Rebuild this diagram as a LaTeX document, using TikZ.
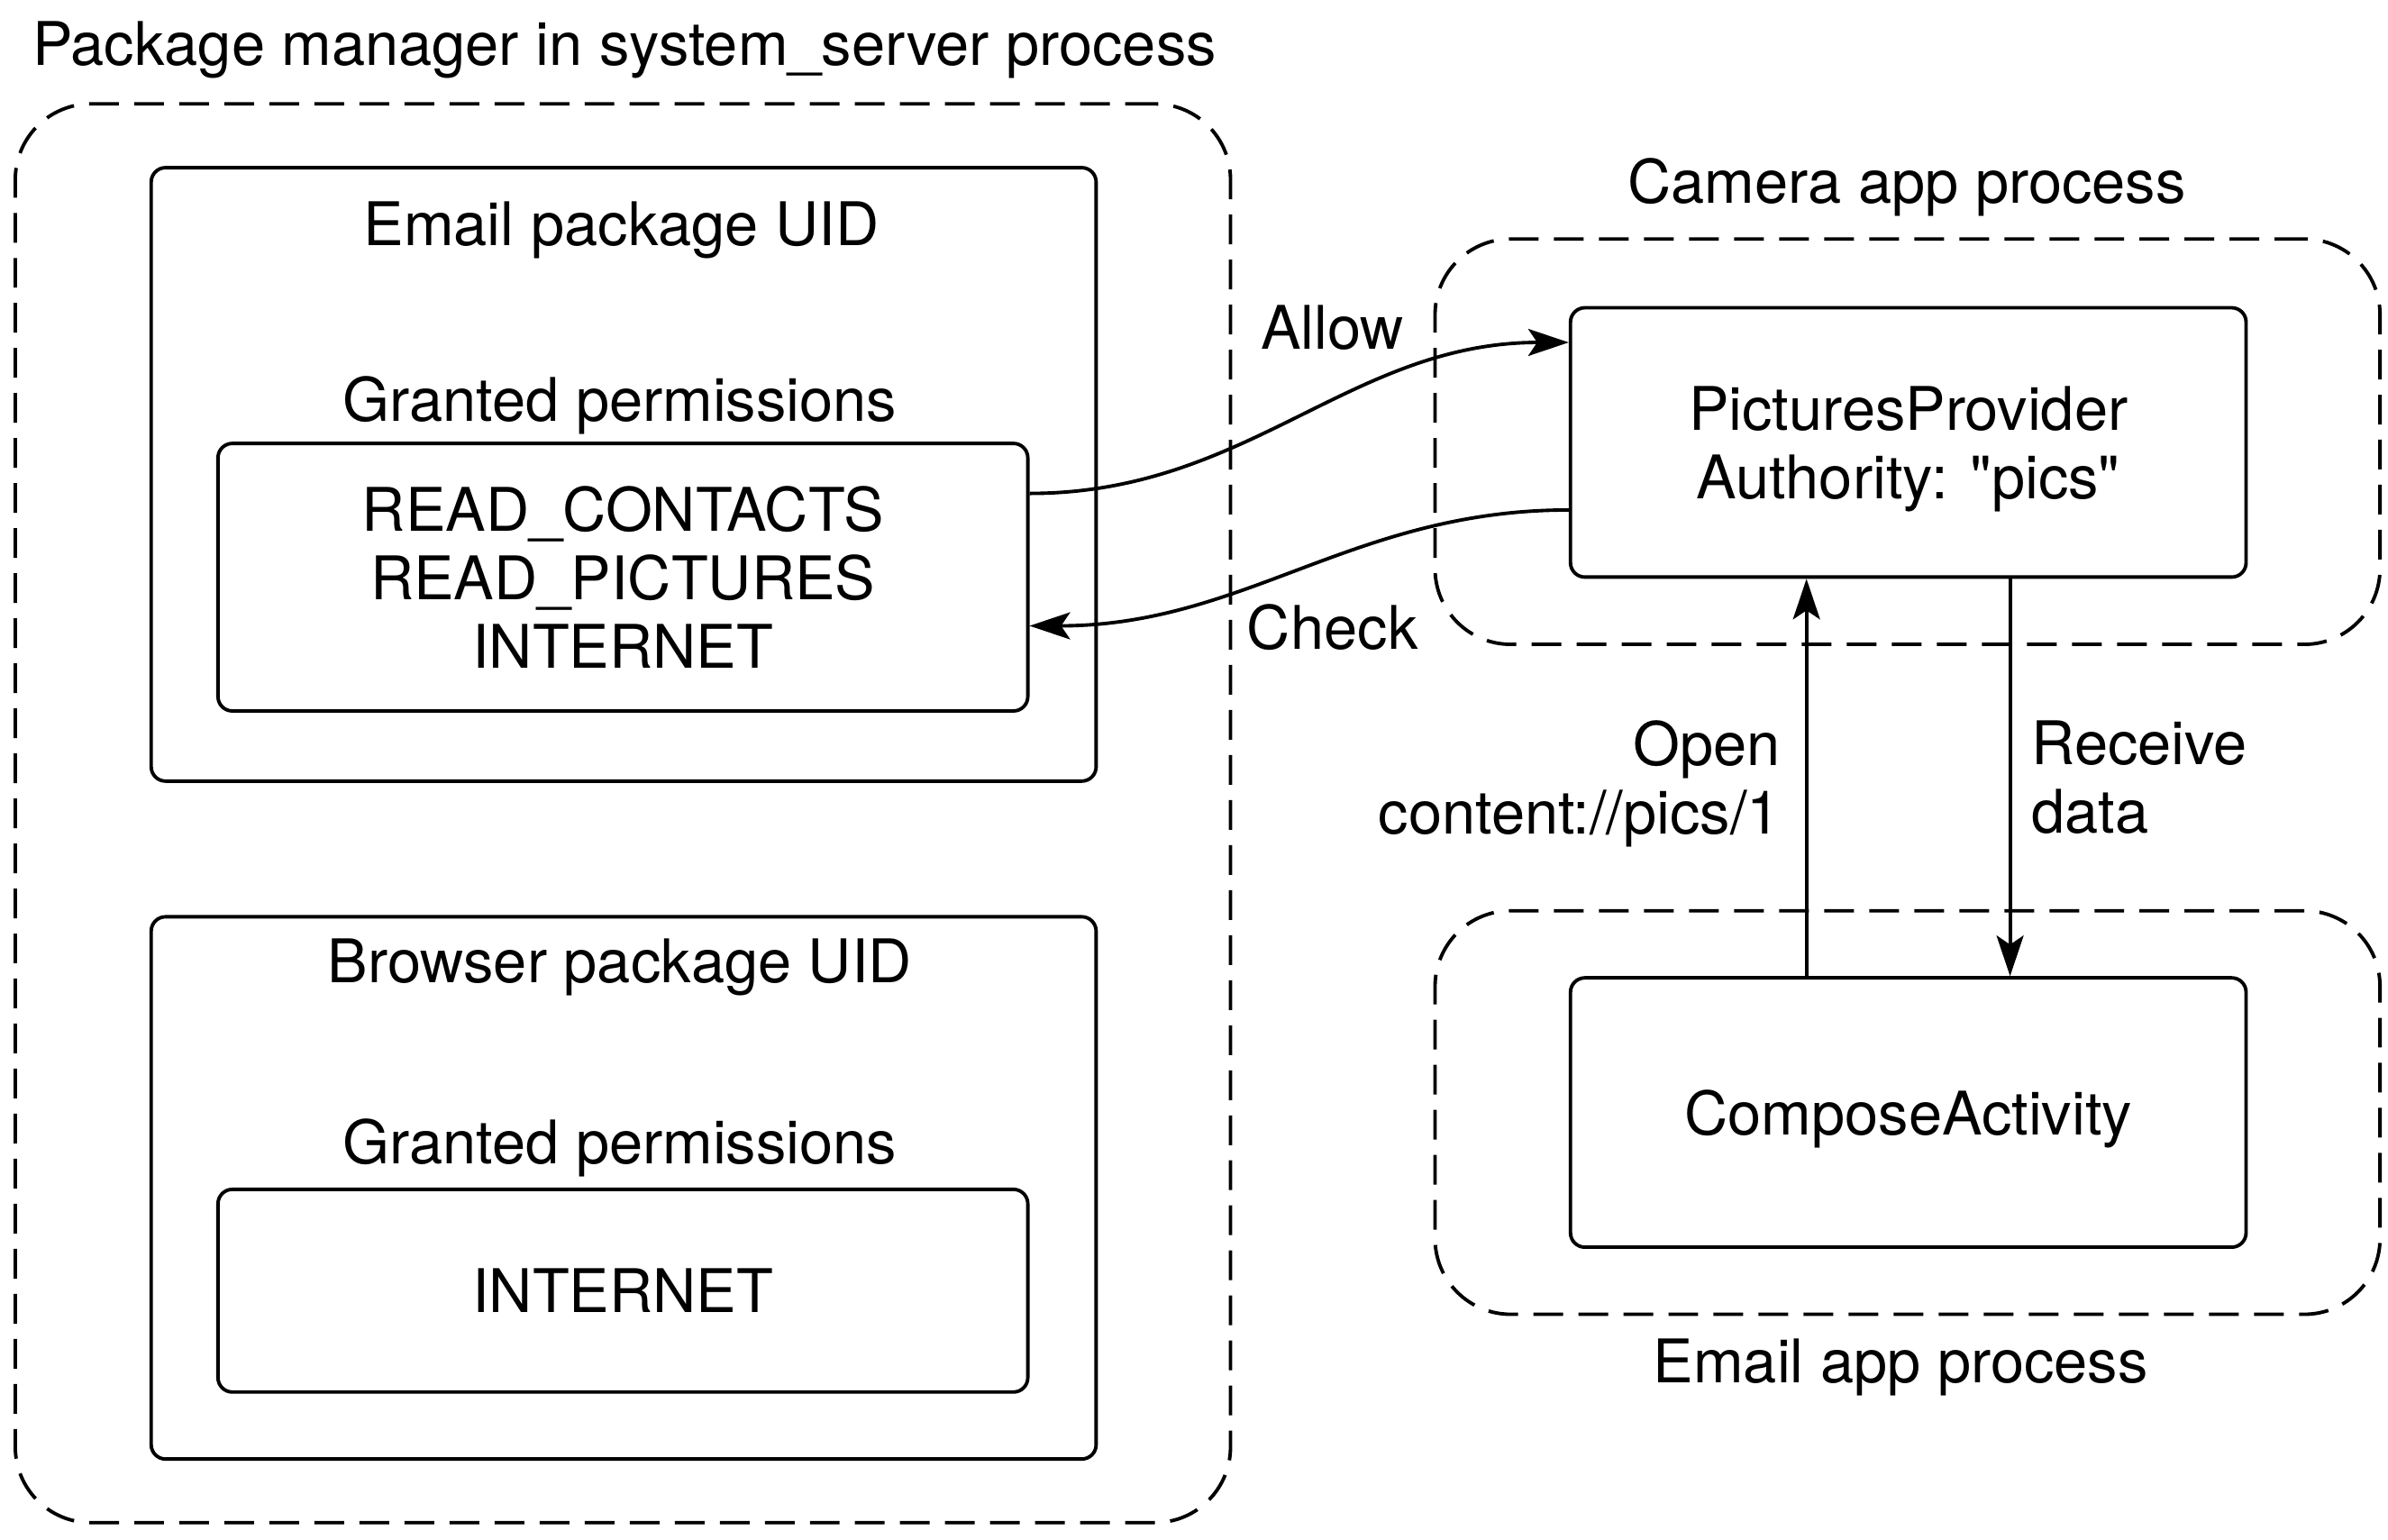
\documentclass[tikz,border=0pt]{standalone}
\usepackage{fontspec}
\setmainfont{TeX Gyre Heros}
\usetikzlibrary{arrows.meta}

\tikzset{
    proc/.style={draw, dash pattern=on 0.33cm off 0.17cm, rounded corners=0.84cm, line width=1.1pt},
    pkg/.style={draw, rounded corners=0.16cm, line width=1.1pt, align=center, text depth=0pt},
}

\begin{document}
\begin{tikzpicture}[x=0.0169cm, y=-0.0169cm, >={Stealth[length=0.45cm, width=0.3cm, inset=0.1cm]},
    every node/.style={font=\fontsize{19}{21.6}\selectfont, inner sep=0pt}]
    \useasboundingbox (0,0) rectangle (1568,1011);

    % package manager side
    \node(pmtitle) at (410,33) {Package manager in system\_server process};
    \node[proc, minimum width=13.49cm, minimum height=15.75cm](pm) at (409,534) {};

    \node[pkg, minimum width=10.49cm, minimum height=6.81cm](emailuid) at (409.5,311.5) {};
    \node(emailuidtitle) at (408,151) {Email package UID};
    \node(emailgranted) at (407,266) {Granted permissions};
    \node[pkg, minimum width=8.99cm, minimum height=2.97cm](emailperms) at (409,379)
        {READ\_CONTACTS\\READ\_PICTURES\\INTERNET};

    \node[pkg, minimum width=10.49cm, minimum height=6.02cm](browseruid) at (409.5,780) {};
    \node(browseruidtitle) at (407,635) {Browser package UID};
    \node(browsergranted) at (407,754) {Granted permissions};
    \node[pkg, minimum width=8.99cm, minimum height=2.25cm](browserperms) at (409,847.5) {INTERNET};

    % app processes
    \node(cameratitle) at (1252,123) {Camera app process};
    \node[proc, minimum width=10.49cm, minimum height=4.5cm](camera) at (1252.5,290) {};
    \node[pkg, minimum width=7.5cm, minimum height=2.99cm](provider) at (1253,290.5)
        {PicturesProvider\\Authority: \textquotedbl pics\textquotedbl};

    \node[proc, minimum width=10.49cm, minimum height=4.48cm](emailapp) at (1252.5,730.5) {};
    \node[pkg, minimum width=7.5cm, minimum height=2.99cm](compose) at (1253,730.5) {ComposeActivity};
    \node(emailapptitle) at (1248,898) {Email app process};

    \path[line width=1.1pt]
        ([yshift=0.93cm]emailperms.east)
            edge [->, out=0, in=180] node[xshift=0.37cm, yshift=1.0cm] {Allow} ([yshift=1.11cm]provider.west)
        ([yshift=-0.75cm]provider.west)
            edge [->, out=180, in=0] node[xshift=0.37cm, yshift=-0.66cm] {Check} ([yshift=-0.54cm]emailperms.east)
        ([xshift=-1.13cm]compose.north)
            edge [->] node[left=0.27cm, yshift=-0.07cm, align=right] {Open\\content://pics/1} ([xshift=-1.13cm]provider.south)
        ([xshift=1.13cm]provider.south)
            edge [->] node[right=0.22cm, align=left] {Receive\\data} ([xshift=1.13cm]compose.north)
        ;
\end{tikzpicture}
\end{document}
